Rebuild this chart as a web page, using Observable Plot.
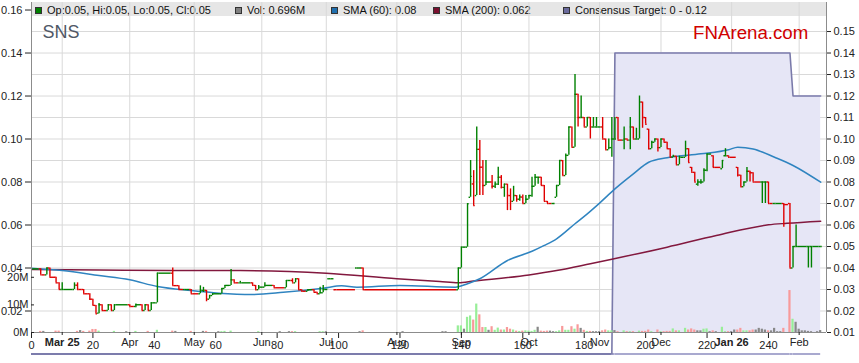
<!DOCTYPE html>
<html>
<head>
<meta charset="utf-8">
<script src="https://cdn.jsdelivr.net/npm/d3@7"></script>
<script src="https://cdn.jsdelivr.net/npm/@observablehq/plot@0.6"></script>
<style>
html,body{margin:0;padding:0;background:#fff;}
#wrap{position:relative;width:859px;height:363px;font-family:"Liberation Sans",Arial,sans-serif;}
#band{position:absolute;left:31px;top:2px;width:795px;height:14px;background:#e6e6e6;}
#legend{position:absolute;left:0;top:0;width:859px;height:18px;}
.item{position:absolute;top:3px;height:14px;line-height:14px;font-size:11px;color:#111;white-space:nowrap;}
.sq{position:absolute;top:7px;width:5px;height:5px;border:1px solid #333;}
#base{position:absolute;left:0;top:0;z-index:1;}
#plot{position:absolute;left:0;top:0;z-index:2;}
#sns{position:absolute;left:42.5px;top:23px;font-size:18px;line-height:18px;color:#505866;z-index:3;}
#fna{position:absolute;right:50.7px;top:23.5px;font-size:18.7px;line-height:18.7px;color:#d00000;z-index:3;}
</style>
</head>
<body>
<div id="wrap">
  <div id="band"></div>
  <div id="legend"></div>
  <div id="base"></div>
  <div id="plot"></div>
  <div id="sns">SNS</div>
  <div id="fna">FNArena.com</div>
</div>
<script>
// ---------- data (x = trading-day index, 0 = 17 Feb 2025) ----------
const monthIdx    = [10, 32, 53, 75, 96, 119, 140, 162, 185, 205, 228, 250];
const monthLabels = ["Mar 25","Apr","May","Jun","Jul","Aug","Sep","Oct","Nov","Dec","Jan 26","Feb"];
const priceTicks  = [1,2,3,4,5,6,7,8,9,10,11,12,13,14,15].map(d => d / 100);
const volTicks    = [0, 10, 20];

const barIdx = [
  0,3,5,6,8,9,10,14,15,17,
  19,20,21,22,23,25,26,27,32,34,
  36,37,38,39,41,46,48,50,52,55,
  56,57,58,59,62,63,65,66,68,72,
  73,74,76,79,83,85,86,87,88,90,
  92,93,94,95,97,99,106,108,139,140,
  142,143,144,145,146,147,148,150,151,152,
  153,154,155,156,157,158,159,160,161,162,
  163,164,165,166,167,168,170,171,172,173,
  174,175,176,177,178,179,180,181,182,183,
  184,186,187,188,189,190,191,193,194,195,
  196,197,198,199,200,201,202,203,204,205,
  206,207,208,209,210,211,213,214,215,216,
  217,218,219,220,222,225,226,227,230,231,
  232,233,234,235,238,239,240,242,245,247,
  248,249,253,254,257];
const barOpen = [
  .0396,.0396,.0368,.0400,.0357,.0331,.0300,.0300,.0320,.0300,
  .0280,.0255,.0226,.0190,.0229,.0202,.0229,.0202,.0229,.0221,
  .0229,.0202,.0229,.0202,.0238,.0376,.0318,.0300,.0300,.0280,
  .0296,.0296,.0255,.0272,.0280,.0305,.0319,.0345,.0331,.0331,
  .0319,.0299,.0311,.0319,.0308,.0342,.0331,.0350,.0299,.0292,
  .0299,.0287,.0280,.0285,.0350,.0299,.0400,.0400,.0299,.0400,
  .0497,.0729,.0791,.0737,.0952,.0869,.0784,.0800,.0780,.0790,
  .0822,.0775,.0790,.0737,.0710,.0737,.0720,.0730,.0700,.0720,
  .0737,.0780,.0822,.0822,.0784,.0710,.0700,.0729,.0784,.0900,
  .0830,.0924,.1056,.0962,.1208,.1100,.1100,.1056,.1100,.1056,
  .1056,.1056,.1000,.0950,.0960,.1000,.1100,.0995,.1000,.0995,
  .1056,.1000,.1000,.1172,.1100,.1046,.0955,.0985,.1000,.0960,
  .1000,.0985,.0955,.0915,.0920,.0880,.0915,.0955,.0868,.0845,
  .0790,.0800,.0800,.0855,.0922,.0862,.0922,.0922,.0868,.0832,
  .0778,.0800,.0850,.0843,.0800,.0800,.0800,.0700,.0700,.0700,
  .0400,.0500,.0500,.0500,.0500];
const barHigh = [
  .0396,.0396,.0400,.0400,.0357,.0331,.0331,.0331,.0331,.0300,
  .0280,.0255,.0226,.0235,.0229,.0229,.0229,.0229,.0229,.0232,
  .0229,.0229,.0229,.0238,.0376,.0400,.0318,.0300,.0300,.0317,
  .0310,.0296,.0272,.0280,.0305,.0319,.0393,.0345,.0338,.0331,
  .0319,.0319,.0331,.0319,.0342,.0350,.0350,.0350,.0299,.0299,
  .0299,.0287,.0310,.0319,.0350,.0299,.0400,.0400,.0400,.0497,
  .0699,.0900,.0853,.1056,.0993,.0900,.0900,.0830,.0800,.0869,
  .0830,.0790,.0790,.0768,.0780,.0737,.0740,.0740,.0737,.0737,
  .0822,.0835,.0822,.0822,.0784,.0710,.0700,.0784,.0900,.0900,
  .0930,.1056,.1056,.1300,.1208,.1200,.1100,.1100,.1100,.1100,
  .1100,.1100,.1000,.1000,.1100,.1100,.1100,.1056,.1000,.1100,
  .1056,.1050,.1200,.1172,.1100,.1046,.0990,.1000,.1000,.1000,
  .1000,.0985,.0955,.0925,.0920,.0920,.0990,.0955,.0868,.0845,
  .0810,.0810,.0862,.0930,.0922,.0900,.0955,.0922,.0868,.0832,
  .0800,.0868,.0850,.0843,.0800,.0800,.0800,.0700,.0700,.0700,
  .0500,.0600,.0500,.0500,.0500];
const barLow = [
  .0396,.0368,.0368,.0357,.0331,.0300,.0300,.0300,.0300,.0280,
  .0250,.0226,.0187,.0187,.0202,.0202,.0202,.0202,.0221,.0215,
  .0202,.0202,.0202,.0202,.0238,.0318,.0300,.0300,.0280,.0280,
  .0286,.0243,.0255,.0272,.0280,.0305,.0319,.0331,.0331,.0319,
  .0299,.0299,.0311,.0308,.0308,.0331,.0331,.0299,.0292,.0292,
  .0287,.0280,.0280,.0285,.0350,.0299,.0400,.0299,.0299,.0400,
  .0497,.0729,.0690,.0737,.0737,.0737,.0784,.0768,.0770,.0784,
  .0768,.0729,.0667,.0667,.0710,.0706,.0710,.0700,.0700,.0720,
  .0729,.0780,.0790,.0784,.0710,.0700,.0700,.0729,.0784,.0830,
  .0830,.0924,.0962,.0962,.1056,.1100,.1056,.1056,.1000,.1056,
  .1056,.1000,.0950,.0950,.0915,.1000,.0995,.0950,.0995,.0950,
  .1000,.1000,.1000,.1050,.1069,.0950,.0955,.0985,.0940,.0960,
  .0985,.0955,.0915,.0915,.0880,.0880,.0915,.0890,.0845,.0800,
  .0780,.0790,.0800,.0848,.0868,.0862,.0922,.0915,.0823,.0778,
  .0778,.0800,.0800,.0800,.0700,.0700,.0700,.0700,.0590,.0400,
  .0400,.0500,.0400,.0400,.0500];
const barClose = [
  .0396,.0368,.0400,.0357,.0331,.0300,.0300,.0320,.0300,.0280,
  .0255,.0226,.0187,.0229,.0202,.0229,.0202,.0229,.0221,.0229,
  .0202,.0229,.0202,.0238,.0376,.0318,.0300,.0300,.0280,.0296,
  .0296,.0255,.0272,.0280,.0305,.0319,.0345,.0331,.0331,.0319,
  .0299,.0311,.0319,.0308,.0342,.0331,.0350,.0299,.0292,.0299,
  .0287,.0280,.0285,.0300,.0350,.0299,.0400,.0299,.0400,.0497,
  .0699,.0826,.0690,.0952,.0869,.0784,.0800,.0780,.0790,.0822,
  .0775,.0790,.0737,.0710,.0737,.0720,.0730,.0700,.0720,.0737,
  .0780,.0822,.0822,.0784,.0710,.0700,.0700,.0784,.0900,.0830,
  .0924,.1056,.0962,.1208,.1100,.1100,.1056,.1100,.1056,.1056,
  .1056,.1000,.0950,.0960,.1000,.1000,.0995,.1000,.0995,.1056,
  .1000,.1000,.1172,.1100,.1069,.0955,.0985,.1000,.0960,.1000,
  .0985,.0955,.0915,.0920,.0880,.0915,.0955,.0890,.0845,.0800,
  .0800,.0800,.0855,.0930,.0868,.0900,.0922,.0915,.0832,.0778,
  .0800,.0850,.0843,.0800,.0800,.0800,.0700,.0700,.0695,.0400,
  .0500,.0500,.0500,.0500,.0500];

const volIdx = [
  3,4,8,9,15,16,17,19,20,21,22,27,31,34,38,41,46,47,52,56,57,61,62,63,65,74,81,84,85,86,94,95,96,107,108,121,134,135,
  139,140,141,142,143,144,145,146,147,148,149,150,151,152,153,154,155,156,157,158,159,160,
  161,162,163,164,165,166,167,168,169,170,171,172,173,174,175,176,177,178,179,180,
  181,182,183,184,185,186,187,188,189,190,191,193,194,195,196,198,199,200,201,202,
  204,205,206,207,208,209,210,211,213,214,215,216,217,218,219,220,221,222,223,225,
  226,227,228,229,230,231,232,233,234,235,236,237,238,239,240,241,242,243,244,245,
  247,248,249,250,251,252,253,254,256,257];
const volM = [
  .4,.4,.5,.5,.4,.7,.4,.5,1.1,1.1,.5,.4,.3,.4,.4,.8,.5,.4,.4,.4,.4,.3,.3,.4,.5,.3,.3,.3,.3,.3,.3,.3,.3,.3,.6,.3,.3,.3,
  2.4,2.4,1.2,5.5,6.0,4.5,10.3,6.4,1.8,1.8,.8,2.1,.8,1.6,.9,.9,1.8,1.2,.9,.5,.4,.5,
  .6,.5,.4,.8,1.9,.5,.4,.5,.5,.3,.3,.6,2.2,.8,.8,2.1,1.2,2.8,1.5,.8,
  .4,.4,.3,.3,.3,.6,.9,.6,.6,.7,.3,.6,.3,.3,.3,.5,.4,.4,.9,.3,
  .9,.3,.3,.4,.4,1.3,.6,.6,1.5,.9,1.3,.9,.6,.6,1.2,1.3,.3,.6,.3,1.9,
  .3,.3,.3,.9,.9,1.5,.6,.6,.6,.9,.9,1.5,1.2,.9,.6,.6,1.5,.3,.3,1.5,
  15.2,4.8,3.7,1.2,.6,.6,.4,.3,.3,.7];

const sma60Idx = [0,10,22,32,41,52,61,72,82,95,101,106,120,138,142,146,155,163,167,171,177,181,185,190,196,201,207,218,227,230,235,242,248,257];
const sma60Val = [.0399,.0388,.0365,.0345,.0314,.0295,.0283,.0277,.0287,.0306,.0317,.0311,.0319,.0311,.0327,.0350,.0435,.0478,.0505,.0536,.0606,.0652,.0702,.0768,.0838,.0892,.0913,.0931,.0950,.0962,.0954,.0915,.0877,.0799];
const sma200Idx = [0,22,48,68,96,119,133,139,144,162,171,182,189,207,223,240,246,257];
const sma200Val = [.0393,.0391,.0388,.0388,.0376,.0350,.0337,.0331,.0339,.0368,.0388,.0420,.0441,.0497,.0551,.0601,.0608,.0618];

const targetIdx  = [0, 189, 190, 247, 248, 257];
const targetHigh = [0, 0, .14, .14, .12, .12];
const targetLow  = [0, 0, 0, 0, 0, 0];

const legendLabels = ["Op:0.05, Hi:0.05, Lo:0.05, Cl:0.05", "Vol: 0.696M", "SMA (60): 0.08", "SMA (200): 0.062", "Consensus Target: 0 - 0.12"];
const legendColors = ["#008000", "#808080", "#1f6fae", "#7a1030", "#6a6a9c"];

// ---------- layout / styling ----------
const legendX = [35, 235, 331, 433, 563];
const GREEN = "#008000", RED = "#e00000";
const VUP = "#98ee98", VDN = "#f89a9a", VNC = "#888888";
const K = 0.001284;                  // price-axis units per 1M of volume
const volY = v => 0.01 + v * K;

const leg = document.getElementById("legend");
legendLabels.forEach((t, n) => {
  const s = document.createElement("div");
  s.className = "sq"; s.style.left = legendX[n] + "px"; s.style.background = legendColors[n];
  leg.appendChild(s);
  const d = document.createElement("div");
  d.className = "item"; d.style.left = (legendX[n] + 12) + "px"; d.textContent = t;
  leg.appendChild(d);
});

const bars = barIdx.map((i, n) => ({i, o: barOpen[n], h: barHigh[n], l: barLow[n], c: barClose[n]}));
bars.forEach((b, n) => {
  const prev = n ? bars[n - 1].c : b.c;
  b.col = b.c < prev ? RED : GREEN;
  b.dir = b.c > prev ? VUP : b.c < prev ? VDN : VNC;
});
const byIdx = new Map(bars.map(b => [b.i, b]));
const segs = [];
for (let n = 0; n < bars.length - 1; n++) {
  if (bars[n + 1].i - bars[n].i > 1) segs.push({x1: bars[n].i + 0.5, x2: bars[n + 1].i - 0.5, y: bars[n].c, col: bars[n].col});
}
const vols = volIdx.map((i, n) => ({i, v: volM[n], col: byIdx.has(i) ? byIdx.get(i).dir : VNC}));
const sma60 = sma60Idx.map((i, n) => ({i, v: sma60Val[n]}));
const sma200 = sma200Idx.map((i, n) => ({i, v: sma200Val[n]}));
const target = targetIdx.map((i, n) => ({i, hi: targetHigh[n], lo: targetLow[n]}));
const targetSegs = target.slice(1).map((d, n) => ({x1: target[n].i, x2: d.i, lo: d.lo, empty: target[n].hi === 0 && d.hi === 0}));

const X0 = 0, X1 = 258.9;
const common = {
  width: 859, height: 363,
  marginLeft: 31, marginRight: 33, marginTop: 2, marginBottom: 31,
  x: {domain: [X0, X1], label: null},
  y: {domain: [0.01, 0.1635], label: null},
  color: {type: "identity"},
  style: {background: "transparent", fontFamily: "'Liberation Sans', Arial, sans-serif", fontSize: "11px", color: "#222", overflow: "visible"}
};

// bottom layer: grid + consensus target band (as in the working layout)
const base = Plot.plot({
  ...common,
  marks: [
    Plot.gridY(priceTicks, {stroke: "#d9d9d9", strokeOpacity: 1}),
    Plot.gridX(monthIdx, {stroke: "#d9d9d9", strokeOpacity: 1}),
    Plot.areaY(target, {x: "i", y1: "lo", y2: "hi", fill: "#e6e6f6", clip: true}),
    Plot.ruleY(targetSegs, {x1: "x1", x2: "x2", y: "lo", stroke: d => d.empty ? "#7c7cac" : "#a9a9cf", strokeWidth: 2}),
    Plot.line(target.slice(1), {x: "i", y: "hi", stroke: "#7a7aaa", strokeWidth: 1.6})
  ]
});
document.getElementById("base").appendChild(base);

// top layer: volume, averages, price bars, axes
const chart = Plot.plot({
  ...common,
  marks: [
    Plot.rectY(vols, {x1: d => d.i - 0.36, x2: d => d.i + 0.36, y1: 0.01, y2: d => volY(d.v), fill: "col", clip: true}),
    Plot.line(sma200, {x: "i", y: "v", stroke: "#82183e", strokeWidth: 1.5, curve: "monotone-x", clip: true}),
    Plot.line(sma60, {x: "i", y: "v", stroke: "#2f84c0", strokeWidth: 1.5, curve: "monotone-x", clip: true}),
    Plot.ruleY(segs, {x1: "x1", x2: "x2", y: "y", stroke: "col", strokeWidth: 1.4, clip: true}),
    Plot.ruleX(bars.filter(b => b.h > b.l), {x: "i", y1: "l", y2: "h", stroke: "col", strokeWidth: 1.4, clip: true}),
    Plot.ruleY(bars, {x1: d => d.i - 0.5, x2: "i", y: "o", stroke: "col", strokeWidth: 1.4, clip: true}),
    Plot.ruleY(bars, {x1: "i", x2: d => d.i + 0.5, y: "c", stroke: "col", strokeWidth: 1.4, clip: true}),
    Plot.ruleX([X0, X1], {stroke: "#8c8c8c"}),
    Plot.ruleY([0.01], {stroke: "#8c8c8c"}),
    Plot.axisY(priceTicks, {anchor: "right", tickFormat: d3.format(".2f"), tickSize: 4, tickPadding: 3, label: null}),
    Plot.axisY(volTicks.map(volY), {anchor: "left", tickFormat: d => Math.round((d - 0.01) / K) + "M", tickSize: -3, tickPadding: 6, label: null}),
    Plot.axisX(monthIdx, {anchor: "bottom", tickFormat: d => monthLabels[monthIdx.indexOf(d)], tickSize: 3, tickPadding: 3, label: null})
  ]
});
chart.querySelectorAll("text").forEach(t => {
  if (/^[A-Z][a-z]{2} \d\d$/.test(t.textContent)) t.setAttribute("font-weight", "bold");
});
document.getElementById("plot").appendChild(chart);
</script>
</body>
</html>
